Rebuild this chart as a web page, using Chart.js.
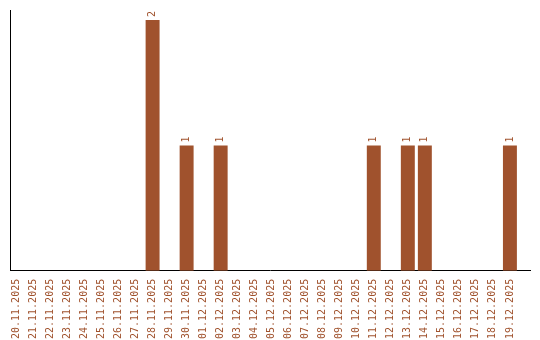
<!DOCTYPE html>
<html lang="en">
<head>
    <meta charset="UTF-8">
    <title>Daily count</title>
    <style>
        html, body { margin: 0; padding: 0; background: #ffffff; }
        #wrap { width: 540px; height: 340px; position: relative; }
    </style>
</head>
<body>
    <div id="wrap">
        <canvas id="dayChart"></canvas>
    </div>

    <script src="https://cdn.jsdelivr.net/npm/chart.js"></script>
    <script>
        // Dates and counts
        const days = [
            '20.11.2025', '21.11.2025', '22.11.2025', '23.11.2025', '24.11.2025',
            '25.11.2025', '26.11.2025', '27.11.2025', '28.11.2025', '29.11.2025',
            '30.11.2025', '01.12.2025', '02.12.2025', '03.12.2025', '04.12.2025',
            '05.12.2025', '06.12.2025', '07.12.2025', '08.12.2025', '09.12.2025',
            '10.12.2025', '11.12.2025', '12.12.2025', '13.12.2025', '14.12.2025',
            '15.12.2025', '16.12.2025', '17.12.2025', '18.12.2025', '19.12.2025'
        ];
        const counts = [
            0, 0, 0, 0, 0, 0, 0, 0, 2, 0,
            1, 0, 1, 0, 0, 0, 0, 0, 0, 0,
            0, 1, 0, 1, 1, 0, 0, 0, 0, 1
        ];

        const barColor = '#A0522D';
        const font = { family: 'DejaVu Sans Mono', size: 10 };

        // Value labels on top of the bars, rotated like the x labels
        const valueLabels = {
            id: 'valueLabels',
            afterDatasetsDraw(chart) {
                const c = chart.ctx;
                const meta = chart.getDatasetMeta(0);
                c.save();
                c.fillStyle = barColor;
                c.font = font.size + 'px ' + font.family;
                c.textAlign = 'left';
                c.textBaseline = 'middle';
                meta.data.forEach((bar, i) => {
                    if (!counts[i]) return;
                    c.save();
                    c.translate(bar.x, bar.y - 3);
                    c.rotate(-Math.PI / 2);
                    c.fillText(String(counts[i]), 0, 0);
                    c.restore();
                });
                c.restore();
            }
        };

        new Chart(document.getElementById('dayChart'), {
            type: 'bar',
            data: {
                datasets: [{
                    data: counts.map((v, i) => ({ x: i, y: v })),
                    backgroundColor: barColor,
                    barPercentage: 0.82,
                    categoryPercentage: 1
                }]
            },
            options: {
                responsive: true,
                maintainAspectRatio: false,
                animation: false,
                layout: { padding: { left: 2, top: 10, right: 10, bottom: 1 } },
                plugins: { legend: { display: false }, tooltip: { enabled: false } },
                scales: {
                    x: {
                        type: 'linear',
                        offset: false,
                        min: -0.38,
                        max: 30.18,
                        afterBuildTicks(scale) {
                            scale.ticks = days.map((d, i) => ({ value: i }));
                        },
                        grid: { display: false },
                        border: { display: true, color: '#000000', width: 1 },
                        ticks: {
                            autoSkip: false,
                            minRotation: 90,
                            maxRotation: 90,
                            padding: 0,
                            color: barColor,
                            font: font,
                            callback: (v) => days[v]
                        }
                    },
                    y: {
                        min: 0,
                        max: 2.08,
                        grid: { display: false },
                        border: { display: true, color: '#000000', width: 1 },
                        ticks: { display: false }
                    }
                }
            },
            plugins: [valueLabels]
        });
    </script>
</body>
</html>
